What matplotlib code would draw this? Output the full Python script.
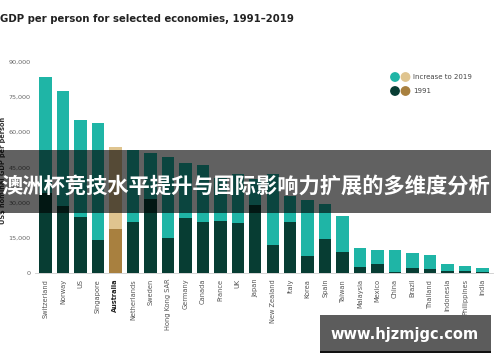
import matplotlib
matplotlib.use("Agg")
import matplotlib.pyplot as plt
from matplotlib.patches import Rectangle, Circle
import numpy as np

# data (US$ thousands)
countries = ["Switzerland", "Norway", "US", "Singapore", "Australia", "Netherlands",
             "Sweden", "Hong Kong SAR", "Germany", "Canada", "France", "UK", "Japan",
             "New Zealand", "Italy", "Korea", "Spain", "Taiwan", "Malaysia", "Mexico",
             "China", "Brazil", "Thailand", "Indonesia", "Philippines", "India"]
gdp_2019 = [83.5, 77.5, 65.0, 64.0, 53.7, 52.3, 51.2, 49.2, 46.7, 46.2, 40.5, 42.3, 40.2,
            42.0, 33.0, 31.2, 29.5, 24.5, 10.6, 9.8, 9.8, 8.5, 7.7, 3.8, 3.0, 2.0]
gdp_1991 = [34.0, 28.5, 24.0, 14.0, 18.7, 21.8, 31.6, 15.0, 23.4, 21.7, 22.0, 21.3, 28.8,
            12.0, 21.7, 7.3, 14.5, 8.9, 2.6, 3.8, 0.5, 2.1, 1.7, 0.9, 0.8, 0.3]
y_ticks = [0, 15, 30, 45, 60, 75, 90]

teal = "#1fb5a6"
dark = "#073d33"
gold_light = "#dfc48f"
gold_dark = "#a8803f"

fig = plt.figure(figsize=(5, 3.62), dpi=100)
W, H = 500, 362

def px(x0, y0, x1, y1):
    return [x0 / W, 1 - y1 / H, (x1 - x0) / W, (y1 - y0) / H]

ax = fig.add_axes(px(35, 56.8, 493, 273.2))

x = np.arange(len(countries))
base = np.array(gdp_1991) * 1000
inc = (np.array(gdp_2019) - np.array(gdp_1991)) * 1000
c_base = [gold_dark if c == "Australia" else dark for c in countries]
c_inc = [gold_light if c == "Australia" else teal for c in countries]
ax.bar(x, base, width=0.71, color=c_base, zorder=2)
ax.bar(x, inc, bottom=base, width=0.71, color=c_inc, zorder=2)

ax.set_xlim(-0.6, len(countries) - 0.4)
ax.set_ylim(0, 92000)
ax.set_yticks([v * 1000 for v in y_ticks])
ax.set_yticklabels([f"{v * 1000:,}" for v in y_ticks], fontsize=4.6, color="#666666")
ax.set_xticks(x)
ax.set_xticklabels(countries, rotation=90, fontsize=4.8, color="#555555")
for lbl in ax.get_xticklabels():
    if lbl.get_text() == "Australia":
        lbl.set_fontweight("bold")
        lbl.set_color("#222222")
ax.tick_params(axis="x", length=0, pad=4)
ax.tick_params(axis="y", length=0, pad=3)
for s in ["top", "right", "left"]:
    ax.spines[s].set_visible(False)
ax.spines["bottom"].set_color("#cccccc")
ax.spines["bottom"].set_linewidth(0.6)
ax.set_ylabel("US$ nominal GDP per person", fontsize=4.8, fontweight="bold",
              color="#333333")
ax.yaxis.set_label_coords(-0.063, 0.477)

fig.text(0.0, 1 - 19 / H, "GDP per person for selected economies, 1991\u20132019",
         fontsize=7.25, fontweight="bold", color="#222222", va="center", ha="left")

# legend drawn by hand: two dots per row
lax = fig.add_axes([0, 0, 1, 1], zorder=5)
lax.set_xlim(0, W)
lax.set_ylim(H, 0)
lax.axis("off")
lax.patch.set_alpha(0)
for yy, c1, c2, txt in [(77, teal, gold_light, "Increase to 2019"),
                        (91, dark, gold_dark, "1991")]:
    lax.add_patch(Circle((395, yy), 4.2, color=c1))
    lax.add_patch(Circle((405.5, yy), 4.2, color=c2))
    lax.text(413, yy, txt, fontsize=5, color="#444444", va="center")

# overlay banner and watermark
lax.add_patch(Rectangle((0, 150), 491, 63, color="black", alpha=0.62, lw=0))
lax.text(246, 186, "澳洲杯竞技水平提升与国际影响力扩展的多维度分析",
         family=["Noto Sans CJK SC", "DejaVu Sans"], fontsize=15.3, fontweight="bold",
         color="white", ha="center", va="center")
lax.add_patch(Rectangle((320, 315), 171, 36, color="#5c5c5c", lw=0))
lax.add_patch(Rectangle((320, 351), 171, 2, color="#111111", lw=0))
lax.text(405, 335, "www.hjzmjgc.com", fontsize=10.5, fontweight="bold",
         color="white", ha="center", va="center")

fig.savefig("out.png", dpi=100)
